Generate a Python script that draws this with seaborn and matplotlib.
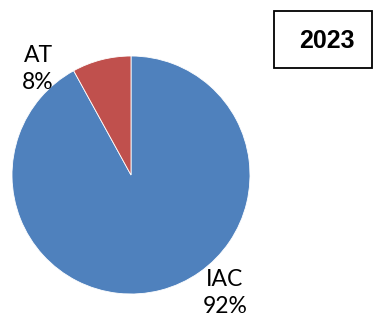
import matplotlib
matplotlib.use("Agg")
import matplotlib.pyplot as plt
import seaborn as sns
from matplotlib.patches import Rectangle

# Data
labels = ["IAC", "AT"]
shares = [92, 8]
colors = ["#4F81BD", "#C0504D"]
year_title = "2023"

W, H = 373, 322
sns.set_theme(style="white")
plt.rcParams["font.family"] = ["Lato", "DejaVu Sans"]

fig = plt.figure(figsize=(W / 100, H / 100), dpi=100)

# pie axes placed in pixel space: centre (131, 175), radius 119
cx, cy, r = 131, 175, 119
ax = fig.add_axes([(cx - r) / W, (H - cy - r) / H, 2 * r / W, 2 * r / H])
ax.pie(shares, colors=colors, startangle=90, counterclock=False,
       wedgeprops=dict(edgecolor="white", linewidth=0.6))
ax.set_xlim(-1, 1)
ax.set_ylim(-1, 1)
ax.set_aspect("equal")
ax.axis("off")

# slice labels
label_pos = {"AT": (38, 69), "IAC": (225, 293)}
for lab, val in zip(labels, shares):
    x, y = label_pos[lab]
    fig.text(x / W, 1 - y / H, f"{lab}\n{val}%", ha="center", va="center",
             fontsize=16.5, linespacing=1.3, color="black")

# year box
fig.patches.append(Rectangle((274 / W, 1 - 68 / H), 98 / W, 57 / H,
                             transform=fig.transFigure, fill=False,
                             edgecolor="black", linewidth=1.3))
fig.text(326.5 / W, 1 - 40.5 / H, year_title, ha="center", va="center",
         fontsize=18, fontweight="bold", family="Liberation Sans",
         color="black")

fig.savefig("out.png", dpi=100)
